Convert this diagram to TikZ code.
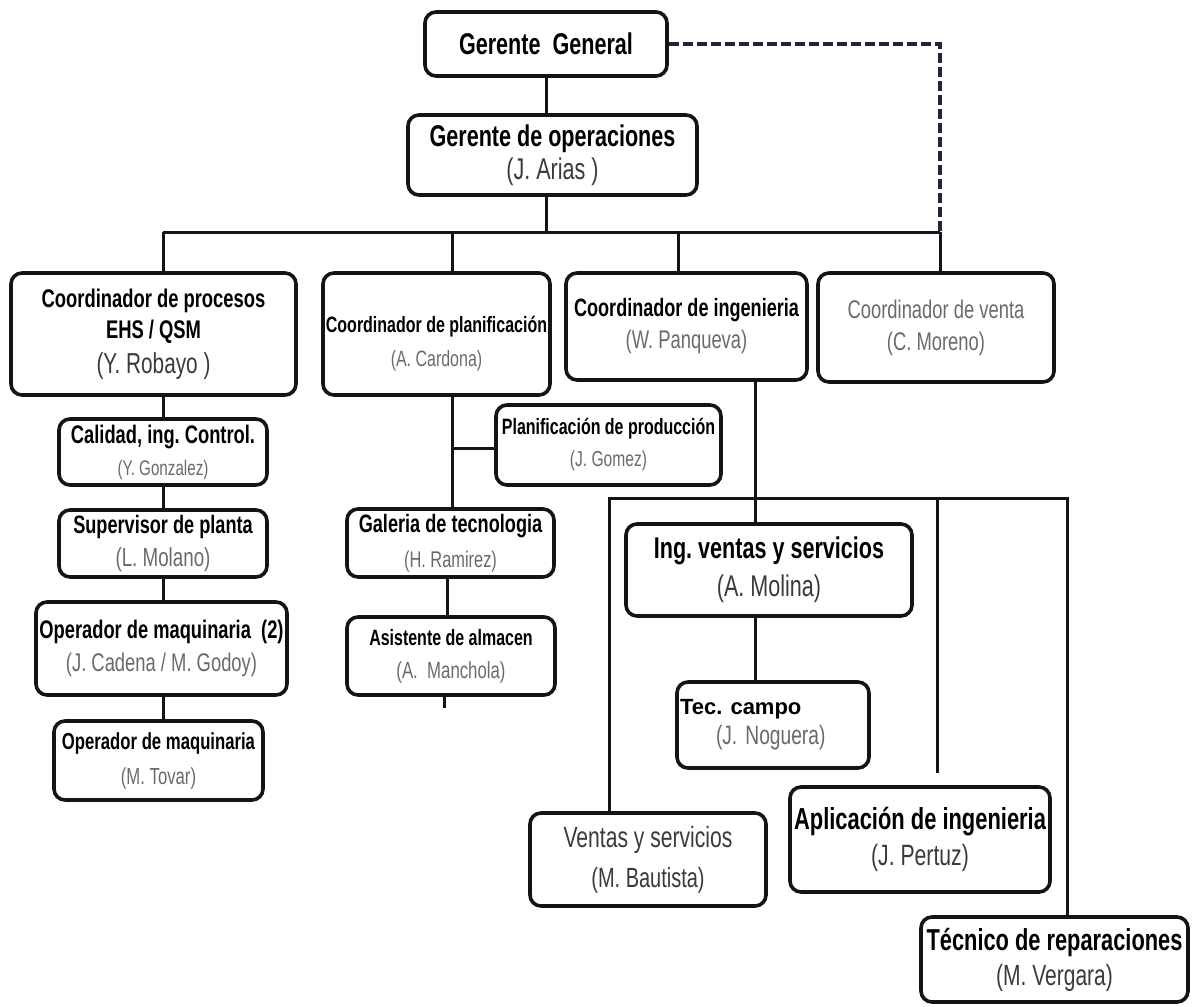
\documentclass[tikz,border=0pt]{standalone}
\usepackage{fontspec}
\setmainfont{Liberation Sans}[FakeStretch=0.72]
\newfontfamily\wideaf{Liberation Sans}
\newcommand\fs[2]{\fontsize{\dimexpr #1pt*111/100\relax}{#2pt}\selectfont}
\definecolor{ln}{HTML}{141414}
\definecolor{dl}{HTML}{1E2838}
\definecolor{nm}{HTML}{6A6A6A}
\definecolor{nd}{HTML}{3A3A3A}
\frenchspacing
\begin{document}
\begin{tikzpicture}[x=1pt,y=-1pt,
  box/.style={draw=ln, line width=3.6pt, rounded corners=11pt, inner sep=0pt, align=center},
  conn/.style={draw=ln, line width=3pt},
  dashline/.style={draw=dl, line width=3.2pt, dash pattern=on 10pt off 4pt}]
\useasboundingbox (0,0) rectangle (1198,1006);

% top
\node[box, minimum width=242pt, minimum height=64pt, font=\fs{27}{30}] (gg) at (546,44) {\bfseries Gerente\ \ General};
\node[box, minimum width=289pt, minimum height=80pt, font=\fs{27}{33}] (go) at (552.5,155) {\bfseries Gerente de operaciones\\{\fs{27}{27}\color{nd}(J. Arias )}};

% row 2
\node[box, minimum width=285pt, minimum height=122pt, font=\fs{23}{31}] (cp) at (153.5,334) {\bfseries Coordinador de procesos\\\bfseries EHS / QSM\\[4pt]{\fs{26}{26}\color{nd}(Y. Robayo )}};
\node[box, minimum width=227pt, minimum height=122pt, font=\fs{20}{34}] (cpl) at (436.5,334) {\rule{0pt}{35pt}\bfseries Coordinador de planificación\\{\fs{20}{20}\color{nm}(A. Cardona)}};
\node[box, minimum width=241pt, minimum height=107pt, font=\fs{22.6}{32}] (ci) at (686.5,326.5) {\bfseries Coordinador de ingenieria\\{\fs{23}{23}\color{nm}(W. Panqueva)}};
\node[box, minimum width=236pt, minimum height=109pt, font=\fs{23}{32}] (cv) at (936,327.5) {\color{nm}Coordinador de venta\\{\color{nm}(C. Moreno)}};

% left column
\node[box, minimum width=208pt, minimum height=66pt, font=\fs{22.9}{32}] (cal) at (163,452) {\bfseries Calidad, ing. Control.\\{\fs{19}{19}\color{nm}(Y. Gonzalez)}};
\node[box, minimum width=208pt, minimum height=67pt, font=\fs{22.7}{33}] (sup) at (163,543.5) {\bfseries Supervisor de planta\\{\fs{23.5}{23.5}\color{nm}(L. Molano)}};
\node[box, minimum width=251pt, minimum height=93pt, font=\fs{22.9}{33}] (op2) at (161.5,648.5) {\bfseries Operador de maquinaria\ \ (2)\\{\fs{23}{23}\color{nm}(J. Cadena / M. Godoy)}};
\node[box, minimum width=209pt, minimum height=79pt, font=\fs{20.9}{35}] (opt) at (158.5,760.5) {\bfseries Operador de maquinaria\\{\fs{20.9}{20.9}\color{nm}(M. Tovar)}};

% planning column
\node[box, minimum width=225pt, minimum height=80pt, font=\fs{20}{32}] (pp) at (608.5,445) {\bfseries Planificación de producción\\{\fs{19.5}{19.5}\color{nm}(J. Gomez)}};
\node[box, minimum width=207pt, minimum height=68pt, font=\fs{22.7}{35}] (gal) at (450.5,543) {\bfseries Galeria de tecnologia\\{\fs{20.5}{20.5}\color{nm}(H. Ramirez)}};
\node[box, minimum width=208pt, minimum height=78pt, font=\fs{20}{33}] (asi) at (451,656) {\bfseries Asistente de almacen\\{\fs{21}{21}\color{nm}(A.\ \ Manchola)}};

% engineering
\node[box, minimum width=286pt, minimum height=92pt, font=\fs{27}{38}] (ivs) at (769,570) {\bfseries Ing. ventas y servicios\\{\color{nd}(A. Molina)}};
\node[box, minimum width=192pt, minimum height=86pt, text width=186pt, align=left, font=\fs{22}{30}] (tec) at (773,725) {{\wideaf\bfseries\fontsize{22pt}{30pt}\selectfont Tec. campo}\\\hspace*{36pt}{\fs{24}{24}\color{nm}(J. Noguera)}};
\node[box, minimum width=236pt, minimum height=93pt, font=\fs{26.4}{40}] (vys) at (648,859.5) {\color{nd}Ventas y servicios\\{\fs{25}{25}\color{nd}(M. Bautista)}};
\node[box, minimum width=260pt, minimum height=105pt, font=\fs{27.4}{36}] (apl) at (920,839.5) {\bfseries Aplicación de ingenieria\\{\fs{26.5}{26.5}\color{nd}(J. Pertuz)}};
\node[box, minimum width=267pt, minimum height=85pt, font=\fs{27.3}{35}] (trp) at (1054.5,959.5) {\bfseries Técnico de reparaciones\\{\fs{26.3}{26.3}\color{nd}(M. Vergara)}};

% connectors: top
\coordinate (d1) at (163,232);
\coordinate (d2) at (452,232);
\coordinate (d3) at (678,232);
\coordinate (d4) at (940,232);
\draw[conn] (d1) -- (d4);
\draw[conn] (gg.south) -- (gg.south |- go.north);
\draw[conn] (gg.south |- go.south) -- (gg.south |- d1);
\draw[conn] (d1) -- (d1 |- cp.north);
\draw[conn] (d2) -- (d2 |- cpl.north);
\draw[conn] (d3) -- (d3 |- ci.north);
\draw[conn] (d4) -- (d4 |- cv.north);
\draw[dashline] (gg.east) -| (d4);

% left chain
\draw[conn] (d1 |- cp.south) -- (d1 |- cal.north);
\draw[conn] (d1 |- cal.south) -- (d1 |- sup.north);
\draw[conn] (d1 |- sup.south) -- (d1 |- op2.north);
\draw[conn] (d1 |- op2.south) -- (d1 |- opt.north);

% planning chain
\draw[conn] (d2 |- cpl.south) -- (d2 |- gal.north);
\coordinate (pb) at (452,448);
\draw[conn] (pb) -- (pb -| pp.west);
\coordinate (g1) at (447,600);
\draw[conn] (g1 |- gal.south) -- (g1 |- asi.north);
\coordinate (stub) at (444,708);
\draw[conn] (stub |- asi.south) -- (stub);

% engineering chain
\coordinate (e) at (755,400);
\draw[conn] (e |- ci.south) -- (e |- ivs.north);
\draw[conn] (e |- ivs.south) -- (e |- tec.north);
\coordinate (b1) at (609,498);
\coordinate (b2) at (937,498);
\coordinate (b3) at (1067,498);
\coordinate (aend) at (937,773);
\draw[conn] (b1 |- vys.north) -- (b1) -- (b3) -- (b3 |- trp.north);
\draw[conn] (b2) -- (aend);
\end{tikzpicture}
\end{document}
